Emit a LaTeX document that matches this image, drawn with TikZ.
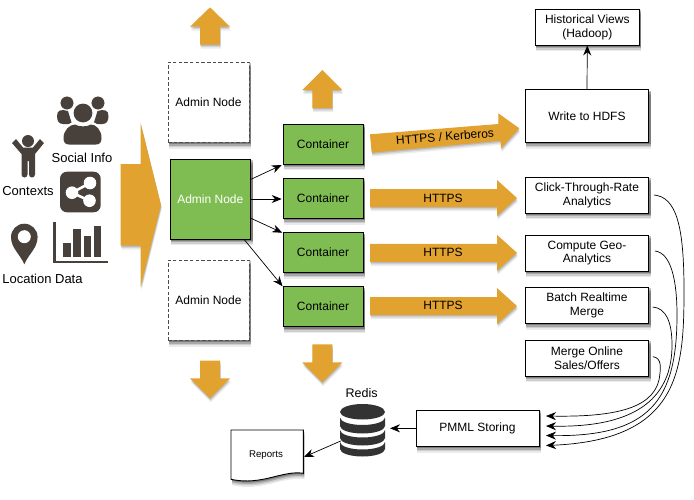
\documentclass[tikz,border=0pt]{standalone}
\usepackage{fontspec}
\setmainfont{Liberation Sans}
\usetikzlibrary{arrows.meta,calc}
\definecolor{orng}{HTML}{E2A230}
\definecolor{grn}{HTML}{7FBD52}
\definecolor{icon}{HTML}{47403B}
\definecolor{dbc}{HTML}{333333}
\pgfdeclarelayer{bg}
\pgfsetlayers{bg,main}
\tikzset{
  x=1pt,y=-1pt,
  boxx/.style={draw=black,line width=.9pt,fill=white,align=center,font=\fontsize{12}{13.8}\selectfont,inner sep=0pt},
  dashbox/.style={boxx,draw=black!70,dash pattern=on 3.5pt off 2.2pt,line width=1pt,minimum width=81pt,minimum height=80pt},
  greenbox/.style={boxx,fill=grn,minimum width=80pt,minimum height=40pt},
  arrow/.style={-{Stealth[length=10pt,width=8pt]},line width=.7pt,black},
  lab/.style={font=\fontsize{12}{14}\selectfont,inner sep=0pt},
  biglab/.style={font=\fontsize{13}{15}\selectfont,inner sep=0pt},
  iconfill/.style={fill=icon,draw=none},
}
\newcommand{\softarrow}[1]{%
  \fill[black,opacity=.07,shift={(.8,4)}] #1;
  \fill[black,opacity=.10,shift={(.6,2.5)}] #1;
  \fill[black,opacity=.12,shift={(.4,1.2)}] #1;
  \fill[orng] #1;}
\newcommand{\vupar}[6]{% cx, tipy, basey, tailend, headhalf, shafthalf
  \softarrow{(#1-#6,#4) -- (#1-#6,#3) -- (#1-#5,#3) -- (#1,#2) -- (#1+#5,#3) -- (#1+#6,#3) -- (#1+#6,#4) -- cycle}}
\begin{document}
\begin{tikzpicture}
\useasboundingbox (0,0) rectangle (694,499);
\begin{pgfonlayer}{bg}
\fill[white] (0,0) rectangle (694,499);
\end{pgfonlayer}
% Input arrow
\softarrow{(120.7,164) -- (140.7,164) -- (140.7,123.3) -- (161,205) -- (140.7,286.7) -- (140.7,245.7) -- (120.7,245.7) -- cycle}
% up and down arrows
\vupar{210}{7.3}{26.7}{44.7}{20}{10}
\vupar{322.3}{70}{90}{108}{20}{10}
\vupar{210}{398.3}{378.3}{360.7}{20}{10}
\vupar{322.3}{382.3}{362.3}{344.3}{20}{10}
% Nodes
\node[dashbox] (a1) at (208.5,102) {Admin Node};
\node[dashbox] (a3) at (208.5,300) {Admin Node};
\node[greenbox,text=white,minimum height=80pt,minimum width=80.5pt] (a2) at (210.3,199) {Admin Node};
\node[greenbox] (c1) at (323,144) {Container};
\node[greenbox] (c2) at (323,198.3) {Container};
\node[greenbox] (c3) at (323,252.5) {Container};
\node[greenbox] (c4) at (323,306.7) {Container};
\draw[arrow] (a2.east |- 0,179.3) -- (281.7,165);
\draw[arrow] (a2.east) -- (281.7,199);
\draw[arrow] (a2.east |- 0,218.3) -- (282.3,232.7);
\draw[arrow] (244,239.3) -- (c4.north west);
% horizontal arrows
\softarrow{(370,134.3) -- (498.3,124) -- (498.3,113.3) -- (519.3,128.3) -- (501,148.3) -- (500.5,140.7) -- (371.7,152.7) -- cycle}
\node[lab,rotate=4.5] at (445,136.7) {HTTPS / Kerberos};
\foreach \yy/\ty in {198/198,252.8/252,306/305.7}{
  \softarrow{(370,\yy-9) -- (497,\yy-9) -- (497,\yy-18) -- (517,\yy) -- (497,\yy+18) -- (497,\yy+9) -- (370,\yy+9) -- cycle}
  \node[lab] at (443,\ty) {HTTPS};
}
% right boxes
\node[boxx,minimum width=123.5pt,minimum height=53pt] (w) at (587,116) {Write to HDFS};
\node[boxx,minimum width=104pt,minimum height=36pt] (h) at (587.3,27) {Historical Views\\(Hadoop)};
\draw[arrow] (w.north) -- (h.south);
\node[boxx,minimum width=123.5pt,minimum height=36pt] (k1) at (587,195) {Click-Through-Rate\\Analytics};
\node[boxx,minimum width=123.5pt,minimum height=36pt] (k2) at (587,253) {Compute Geo-\\Analytics};
\node[boxx,minimum width=123.5pt,minimum height=36pt] (k3) at (587,305.3) {Batch Realtime\\Merge};
\node[boxx,minimum width=123.5pt,minimum height=36pt] (k4) at (587,358) {Merge Online\\Sales/Offers};
\node[boxx,minimum width=123pt,minimum height=36pt] (p) at (477.5,428.3) {PMML Storing};
% box shadows
\begin{pgfonlayer}{bg}
\foreach \n in {a1,a2,a3,c1,c2,c3,c4,w,h,k1,k2,k3,k4,p}{
  \foreach \d/\o in {6/.08,4.5/.12,3/.18,1.5/.25}{
    \fill[black,opacity=\o] ($(\n.north west)+(1,\d)$) rectangle ($(\n.south east)+(1.6,\d)$);
  }
}
\end{pgfonlayer}
% curves
\draw[arrow] (654,195) .. controls (676,197) and (684,225) .. (684,290) .. controls (684,370) and (680,440) .. (546,445.5);
\draw[arrow] (655,251) .. controls (671,253) and (677,280) .. (677,315) .. controls (677,400) and (650,437) .. (546,435.5);
\draw[arrow] (652.7,307) .. controls (666,308) and (672,322) .. (672,345) .. controls (672,395) and (640,428) .. (546,426);
\draw[arrow] (653,356.7) .. controls (662,358) and (661,368) .. (659,380) .. controls (652,410) and (610,417) .. (546,416);
% Redis
\fill[dbc] (340,412) arc[start angle=180,end angle=0,x radius=22.5,y radius=7.5] -- (385,412) arc[start angle=0,end angle=-180,x radius=22.5,y radius=8] -- cycle;
\fill[dbc] (340,417.5) arc[start angle=180,end angle=0,x radius=22.5,y radius=7.5] -- (385,426) arc[start angle=0,end angle=180,x radius=22.5,y radius=7.5] -- cycle;
\fill[dbc] (340,430) arc[start angle=180,end angle=0,x radius=22.5,y radius=7.5] -- (385,438) arc[start angle=0,end angle=180,x radius=22.5,y radius=7.5] -- cycle;
\fill[dbc] (340,442) arc[start angle=180,end angle=0,x radius=22.5,y radius=7.5] -- (385,449) arc[start angle=0,end angle=180,x radius=22.5,y radius=7.5] -- cycle;
\coordinate (db) at (390,428.3);
\coordinate (dbw) at (340.7,441);
\node[font=\fontsize{12.5}{14}\selectfont,inner sep=0pt] (rl) at (361.7,393) {Redis};
\draw[arrow] (p.west) -- (db);
% Reports
\foreach \d/\o in {6/.08,4.5/.12,3/.18,1.5/.25}{
  \fill[black,opacity=\o,shift={(1,\d)}] (231,430) -- (303.3,430) -- (303.3,473.3) .. controls (282,470) and (262,486) .. (231,479.3) -- cycle;
}
\filldraw[draw=black,line width=.9pt,fill=white] (231,430) -- (303.3,430) -- (303.3,473.3) .. controls (282,470) and (262,486) .. (231,479.3) -- cycle;
\node[font=\fontsize{9.7}{11}\selectfont,inner sep=0pt] (rep) at (266,455) {Reports};
\coordinate (repe) at (304,457);
\draw[arrow] (dbw) -- (repe);
% Left labels
\node[biglab] (t1) at (82,158) {Social Info};
\node[biglab] (t2) at (28,191.5) {Contexts};
\node[biglab] (t3) at (42.5,279) {Location Data};
% people icon
\fill[iconfill] (57,116) .. controls (57,110) and (61,109) .. (68,111) -- (72,124) -- (63,124) .. controls (59,124) and (57,121) .. (57,116) -- cycle;
\fill[iconfill] (108.5,116) .. controls (108.5,110) and (104.5,109) .. (97.5,111) -- (93.5,124) -- (102.5,124) .. controls (106.5,124) and (108.5,121) .. (108.5,116) -- cycle;
\filldraw[fill=icon,draw=white,line width=.8pt] (67,103) circle (7);
\filldraw[fill=icon,draw=white,line width=.8pt] (98,103) circle (7);
\fill[white] (83,113) circle (11);
\fill[white] (61.5,146) -- (61.5,135) .. controls (64,126) and (70,122) .. (75,122) -- (91,122) .. controls (96,122) and (102,126) .. (103.5,135) -- (103.5,146) -- cycle;
\fill[iconfill] (83,113) circle (9.4);
\fill[iconfill] (63.5,138) .. controls (63.5,130) and (70,124.5) .. (75,124.5) .. controls (79,127) and (87,127) .. (91,124.5) .. controls (96,124.5) and (101.5,130) .. (101.5,138) .. controls (101.5,142) and (100,144.5) .. (96,144.5) -- (69,144.5) .. controls (65,144.5) and (63.5,142) .. (63.5,138) -- cycle;
% person
\fill[iconfill] (28,141) circle (6);
\fill[iconfill] (12,143) -- (16,139) -- (23,147.5) -- (33,147.5) -- (40,139) -- (44,143) -- (35,154) -- (35,174.5) arc[start angle=0,end angle=180,x radius=3,y radius=3] -- (29,161) -- (27.5,161) -- (27.5,174.5) arc[start angle=0,end angle=180,x radius=3,y radius=3] -- (21.5,154) -- cycle;
% share icon
\fill[iconfill,rounded corners=7pt] (60,171.7) rectangle (100.7,212.3);
\draw[white,line width=2.6pt] (90,183) -- (72,192.7) -- (89.5,200.7);
\fill[white] (90,183) circle (6.3) (72,192.7) circle (6.3) (89.5,200.7) circle (6.3);
% pin
\fill[iconfill] (24.3,264.3) .. controls (20,254) and (11,248) .. (11,237) arc[start angle=180,end angle=360,radius=13.3] .. controls (37.6,248) and (28.6,254) .. (24.3,264.3) -- cycle;
\fill[white] (24.3,236.7) circle (6.5);
% chart
\fill[iconfill] (53,222) rectangle (55.6,263.3);
\fill[iconfill] (53,260.6) rectangle (107.7,263.3);
\fill[iconfill] (63.3,242.7) rectangle (70.7,256.7);
\fill[iconfill] (73.3,229) rectangle (80.7,256.7);
\fill[iconfill] (84,236) rectangle (91.3,256.7);
\fill[iconfill] (94.3,225.7) rectangle (101,256.7);
\end{tikzpicture}
\end{document}
